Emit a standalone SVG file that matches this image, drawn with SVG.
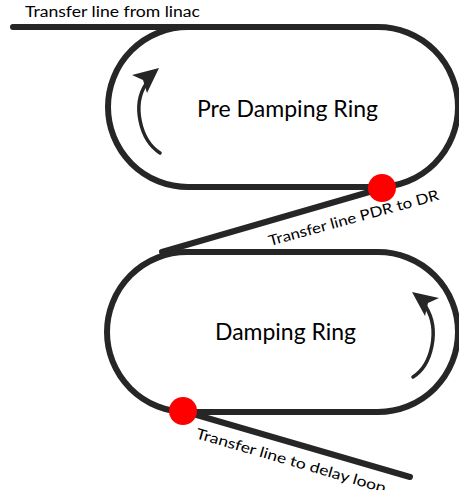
<svg xmlns="http://www.w3.org/2000/svg" width="459" height="490" viewBox="0 0 459 490">
<style>
.track{fill:none;stroke:#262626;stroke-width:6;stroke-linecap:round;stroke-linejoin:round}
.arc{fill:none;stroke:#262626;stroke-width:3.5;stroke-linecap:round}
.head{fill:#262626}
.dot{fill:#ff0000}
text{font-family:Lato,"Open Sans","Liberation Sans",sans-serif;fill:#000}
.lbl{font-size:14.5px}
.big{font-size:23px}
</style>
<rect width="459" height="490" fill="#fff"/>
<g id="connectors">
<path class="track" d="M13,27 H200"/>
<path class="track" d="M383,188 L162,252"/>
<path class="track" d="M183,411 L410,477"/>
</g>
<g id="pre-damping-ring">
<path class="track" d="M188,27 H378 A80,80 0 0 1 378,187 H188 A80,80 0 0 1 188,27 Z"/>
<path class="arc" d="M160,153 C140,140 132,105 146,84"/>
<polygon class="head" points="159,68 132,75 143,80 147,93"/>
<text class="big" x="197" y="117" textLength="181" lengthAdjust="spacingAndGlyphs">Pre Damping Ring</text>
</g>
<g id="damping-ring">
<path class="track" d="M187,252 H378 A80,80 0 0 1 378,412 H187 A80,80 0 0 1 187,252 Z"/>
<path class="arc" d="M413,377 C432,365 440,330 426,307"/>
<polygon class="head" points="412,292 439,298 428,303 425,316"/>
<text class="big" x="215" y="340" textLength="141" lengthAdjust="spacingAndGlyphs">Damping Ring</text>
</g>
<g id="dot-pdr-extraction"><circle class="dot" cx="382" cy="188" r="14"/></g>
<g id="dot-dr-extraction"><circle class="dot" cx="183" cy="411" r="14"/></g>
<g id="label-linac"><text class="lbl" x="25" y="17" textLength="175" lengthAdjust="spacingAndGlyphs">Transfer line from linac</text></g>
<g id="label-pdr-dr"><text class="lbl" transform="translate(270,246) rotate(-15.3)" textLength="176" lengthAdjust="spacingAndGlyphs">Transfer line PDR to DR</text></g>
<g id="label-delay"><text class="lbl" transform="translate(195,438) rotate(16.2)" textLength="197" lengthAdjust="spacingAndGlyphs">Transfer line to delay loop</text></g>
</svg>
